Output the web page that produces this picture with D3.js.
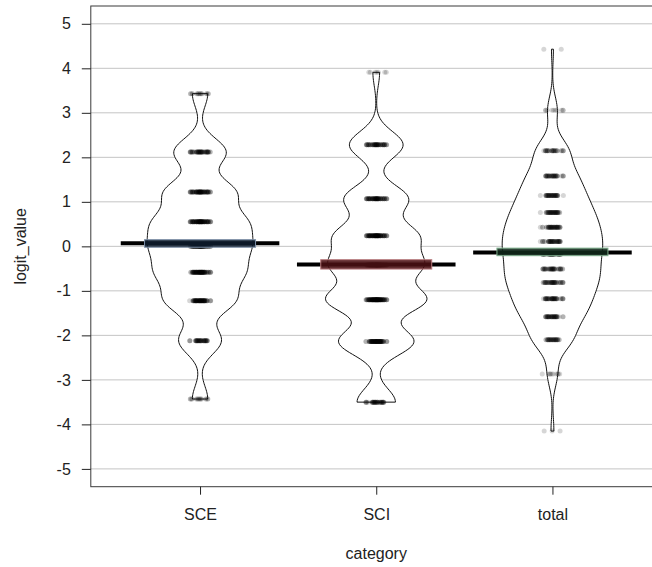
<!DOCTYPE html>
<html>
<head>
<meta charset="utf-8">
<script src="https://cdn.jsdelivr.net/npm/d3@7"></script>
<style>
  body { margin: 0; background: #fff; }
  svg { display: block; font-family: Arial, "Liberation Sans", sans-serif; }
</style>
</head>
<body>
<div id="chart"></div>
<script>
// data
const categories = ["SCE", "SCI", "total"];

// logit levels (distinct values) and how many people sit on each
const sceLevels = [-3.43, -2.12, -1.22, -0.58, 0.00, 0.55, 1.22, 2.12, 3.43];
const sceCounts = [16, 44, 68, 78, 82, 82, 70, 54, 16];

const sciLevels = [-3.50, -2.14, -1.20, -0.42, 0.24, 1.07, 2.28, 3.91];
const sciCounts = [40, 78, 102, 90, 82, 66, 56, 7];

const totalLevels = [-4.15, -2.87, -2.10, -1.58, -1.18, -0.81, -0.51, -0.18,
                     0.11, 0.43, 0.76, 1.14, 1.58, 2.15, 3.06, 4.43];
const totalCounts = [3, 10, 34, 40, 44, 44, 42, 42, 44, 44, 42, 40, 36, 30, 10, 2];

// mean and inference band (low / high) per category
const means = [0.07, -0.41, -0.14];
const bandLow = [-0.02, -0.51, -0.21];
const bandHigh = [0.15, -0.30, -0.04];

const yTicks = [-5, -4, -3, -2, -1, 0, 1, 2, 3, 4, 5];

// styling
const bandFill = ["#0e1b2c", "#4a1013", "#10281a"];
const bandStroke = ["#7d90a8", "#b97a7e", "#7fb08e"];
const BW = 0.3;          // kernel bandwidth
const BEAN_W = 0.30;     // max bean half width (x units)
const LINE_W = 0.45;     // mean line half width
const BAND_W = 0.315;    // inference band half width
const JIT = 0.072;       // point jitter half range

const width = 652, height = 567;
const margin = {left: 90.8, top: 6, bottom: 80.3};

const groups = [
    {levels: sceLevels, counts: sceCounts},
    {levels: sciLevels, counts: sciCounts},
    {levels: totalLevels, counts: totalCounts}
];

const svg = d3.select("#chart").append("svg")
    .attr("width", width)
    .attr("height", height);

// R style limits: 4% expansion around [0.5, 3.5] and [-5, 5]
const x = d3.scaleLinear()
    .domain([0.38, 3.62])
    .range([margin.left, margin.left + 3.24 * 176.2]);
const y = d3.scaleLinear()
    .domain([-5.4, 5.4])
    .range([height - margin.bottom, margin.top]);

const plotRight = x(3.62);

// Grid lines
svg.append("g")
    .selectAll("line")
    .data(yTicks)
    .join("line")
    .attr("x1", x(0.38))
    .attr("x2", plotRight)
    .attr("y1", d => y(d))
    .attr("y2", d => y(d))
    .attr("stroke", "#c4c4c4")
    .attr("stroke-width", 1);

// kernel density, weighted by counts
const kde = (g, v) => {
    let s = 0;
    g.levels.forEach((lv, i) => {
        const z = (v - lv) / BW;
        s += g.counts[i] * Math.exp(-0.5 * z * z);
    });
    return s / (BW * Math.sqrt(2 * Math.PI));
};

const beans = groups.map(g => {
    const lo = d3.min(g.levels), hi = d3.max(g.levels);
    return d3.range(201).map(k => {
        const v = lo + (hi - lo) * k / 200;
        return {v: v, d: kde(g, v)};
    });
});
const maxD = d3.max(beans, b => d3.max(b, p => p.d));
const w = d3.scaleLinear().domain([0, maxD]).range([0, BEAN_W]);

// Beans
beans.forEach((b, i) => {
    const cx = i + 1;
    const area = d3.area()
        .y(p => y(p.v))
        .x0(p => x(cx - w(p.d)))
        .x1(p => x(cx + w(p.d)))
        .curve(d3.curveLinear);
    svg.append("path")
        .datum(b)
        .attr("d", area)
        .attr("fill", "#fff")
        .attr("stroke", "#111")
        .attr("stroke-width", 1);
});

// Points (spread sideways with a fixed quasi random pattern)
const pts = [];
groups.forEach((g, gi) => {
    g.levels.forEach((lv, li) => {
        for (let j = 0; j < g.counts[li]; j++) {
            const k = j + li * 13 + gi * 5 + 1;
            const u1 = (k * 0.6180339) % 1;
            const u2 = (k * 0.7548777 + 0.5) % 1;
            pts.push({cx: gi + 1 + (u1 + u2 - 1) * JIT, v: lv});
        }
    });
});
svg.append("g")
    .selectAll("circle")
    .data(pts)
    .join("circle")
    .attr("cx", d => x(d.cx))
    .attr("cy", d => y(d.v))
    .attr("r", 2.5)
    .attr("fill", "#000")
    .attr("fill-opacity", 0.16);

// Mean lines
svg.append("g")
    .selectAll("line")
    .data(means)
    .join("line")
    .attr("x1", (d, i) => x(i + 1 - LINE_W))
    .attr("x2", (d, i) => x(i + 1 + LINE_W))
    .attr("y1", d => y(d))
    .attr("y2", d => y(d))
    .attr("stroke", "#000")
    .attr("stroke-width", 4);

// Inference bands
svg.append("g")
    .selectAll("rect")
    .data(means)
    .join("rect")
    .attr("x", (d, i) => x(i + 1 - BAND_W))
    .attr("width", (d, i) => x(i + 1 + BAND_W) - x(i + 1 - BAND_W))
    .attr("y", (d, i) => y(bandHigh[i]))
    .attr("height", (d, i) => y(bandLow[i]) - y(bandHigh[i]))
    .attr("fill", (d, i) => bandFill[i])
    .attr("fill-opacity", 0.88)
    .attr("stroke", (d, i) => bandStroke[i])
    .attr("stroke-width", 1);

// Frame
svg.append("rect")
    .attr("x", x(0.38))
    .attr("y", y(5.4))
    .attr("width", plotRight - x(0.38))
    .attr("height", y(-5.4) - y(5.4))
    .attr("fill", "none")
    .attr("stroke", "#3a3a3a")
    .attr("stroke-width", 1);

// Axes
const yAxis = svg.append("g")
    .attr("transform", `translate(${x(0.38)},0)`)
    .call(d3.axisLeft(y).tickValues(yTicks).tickSize(9).tickSizeOuter(0).tickPadding(11)
        .tickFormat(d => String(d)));
yAxis.select(".domain").remove();

const xAxis = svg.append("g")
    .attr("transform", `translate(0,${y(-5.4)})`)
    .call(d3.axisBottom(x).tickValues([1, 2, 3]).tickSize(8).tickSizeOuter(0).tickPadding(14)
        .tickFormat(d => categories[d - 1]));
xAxis.select(".domain").remove();

svg.selectAll(".tick line").attr("stroke", "#222");
svg.selectAll(".tick text")
    .attr("fill", "#222")
    .style("font-size", "16px")
    .style("font-family", "Arial, 'Liberation Sans', sans-serif");

// Axis titles
svg.append("text")
    .attr("x", x(2))
    .attr("y", 558.5)
    .attr("text-anchor", "middle")
    .attr("fill", "#222")
    .style("font-size", "16px")
    .text("category");

svg.append("text")
    .attr("transform", `translate(26,${y(0)}) rotate(-90)`)
    .attr("text-anchor", "middle")
    .attr("fill", "#222")
    .style("font-size", "16px")
    .text("logit_value");
</script>
</body>
</html>
